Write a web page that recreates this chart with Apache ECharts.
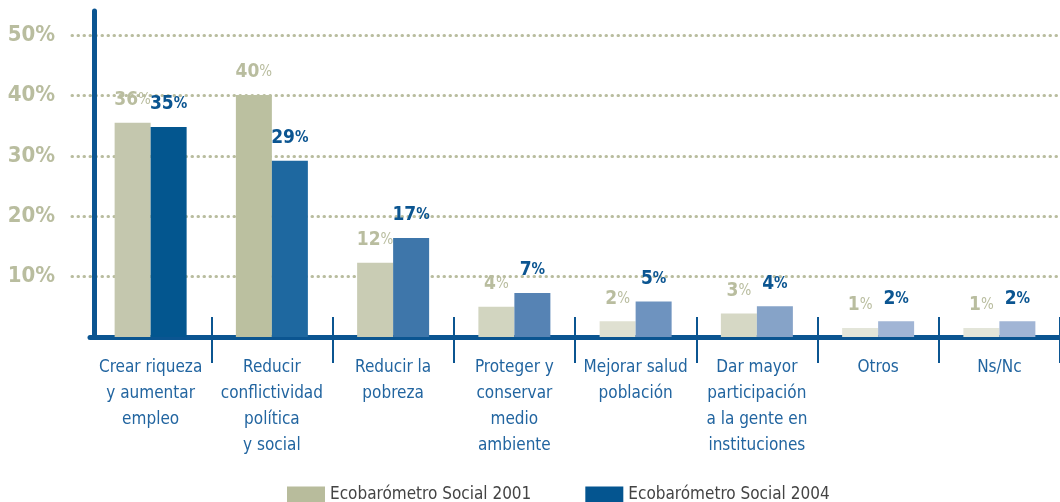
<!DOCTYPE html>
<html>
<head>
<meta charset="utf-8">
<script src="https://cdn.jsdelivr.net/npm/echarts@6/dist/echarts.min.js"></script>
<style>
  html, body { margin: 0; padding: 0; background: #fff; }
  #chart { width: 1060px; height: 502px; }
</style>
</head>
<body>
<div id="chart"></div>
<script>
const categories = [
  'Crear riqueza\ny aumentar\nempleo',
  'Reducir\nconflictividad\npolítica\ny social',
  'Reducir la\npobreza',
  'Proteger y\nconservar\nmedio\nambiente',
  'Mejorar salud\npoblación',
  'Dar mayor\nparticipación\na la gente en\ninstituciones',
  'Otros',
  'Ns/Nc'
];
// bar heights as drawn in the picture
const values2001 = [35.5, 40.1, 12.3, 5.0, 2.6, 3.9, 1.5, 1.5];
const values2004 = [34.8, 29.2, 16.4, 7.3, 5.9, 5.1, 2.6, 2.6];
// printed labels
const labels2001 = [36, 40, 12, 4, 2, 3, 1, 1];
const labels2004 = [35, 29, 17, 7, 5, 4, 2, 2];
const colors2001 = ['#c4c7ae', '#bbc0a0', '#c9ccb4', '#d2d5c0', '#dfe0d1', '#d6d8c5', '#e3e5d9', '#e3e5d9'];
const colors2004 = ['#03568f', '#1e68a0', '#3e76aa', '#5683b4', '#6e93bf', '#86a3c8', '#a1b5d5', '#a1b5d5'];
const yTicks = [10, 20, 30, 40, 50];

const FONT = '"Liberation Sans Narrow", "DejaVu Sans Condensed", "Roboto Condensed", sans-serif';
const BLUE = '#0b5591';
const OLIVE = '#b9bd9f';

const chart = echarts.init(document.getElementById('chart'));

chart.setOption({
  animation: false,
  textStyle: { fontFamily: FONT },
  grid: [
    { left: 90, width: 980, top: 11, bottom: 165 },
    { left: 72, right: 0, top: 11, bottom: 165 }
  ],
  legend: {
    left: 282,
    top: 481,
    itemWidth: 38,
    itemHeight: 16,
    itemGap: 54,
    icon: 'rect',
    textStyle: { fontFamily: FONT, fontSize: 17, color: '#444' },
    data: [
      { name: 'Ecobarómetro Social 2001', itemStyle: { color: '#b8bc9c' } },
      { name: 'Ecobarómetro Social 2004', itemStyle: { color: '#045590' } }
    ]
  },
  xAxis: [
    {
      type: 'category',
      gridIndex: 0,
      position: 'bottom',
      data: categories,
      axisLine: { lineStyle: { color: BLUE, width: 5 } },
      axisTick: { show: true, length: 26, interval: i => i > 0, lineStyle: { color: BLUE, width: 2 } },
      axisLabel: {
        interval: 0,
        margin: 18,
        color: '#2265a0',
        fontSize: 17,
        lineHeight: 26,
        fontFamily: FONT
      }
    },
    {
      type: 'category',
      gridIndex: 0,
      position: 'bottom',
      data: categories,
      axisLine: { show: false },
      axisTick: { show: true, inside: true, length: 20, interval: i => i > 0, lineStyle: { color: BLUE, width: 2 } },
      axisLabel: { show: false }
    },
    { type: 'value', gridIndex: 1, show: false }
  ],
  yAxis: [
    {
      type: 'value',
      gridIndex: 0,
      min: 0,
      max: 54,
      interval: 10,
      offset: -4,
      axisLine: { show: true, lineStyle: { color: BLUE, width: 5 } },
      axisTick: { show: false },
      axisLabel: { show: false },
      splitLine: { show: false }
    },
    {
      type: 'value',
      gridIndex: 1,
      min: 0,
      max: 54,
      interval: 10,
      axisLine: { show: false },
      axisTick: { show: false },
      axisLabel: {
        margin: 17,
        color: OLIVE,
        fontSize: 22,
        fontWeight: 'bold',
        fontFamily: FONT,
        formatter: v => (yTicks.indexOf(v) >= 0 ? v + '%' : '')
      },
      splitLine: {
        show: true,
        showMinLine: false,
        showMaxLine: false,
        lineStyle: { color: OLIVE, width: 3, type: [0.5, 5.5], cap: 'round' }
      }
    }
  ],
  series: [
    {
      name: 'Ecobarómetro Social 2001',
      type: 'bar',
      xAxisIndex: 0,
      yAxisIndex: 0,
      barWidth: 36,
      barGap: '0%',
      data: values2001.map((v, i) => ({ value: v, itemStyle: { color: colors2001[i] } })),
      label: {
        show: true,
        position: 'top',
        distance: 13,
        formatter: p => '{n|' + labels2001[p.dataIndex] + '}{p|%}',
        rich: {
          n: { fontSize: 19, fontWeight: 'bold', color: OLIVE, fontFamily: FONT },
          p: { fontSize: 15, color: OLIVE, fontFamily: FONT }
        }
      }
    },
    {
      name: 'Ecobarómetro Social 2004',
      type: 'bar',
      xAxisIndex: 0,
      yAxisIndex: 0,
      barWidth: 36,
      data: values2004.map((v, i) => ({ value: v, itemStyle: { color: colors2004[i] } })),
      label: {
        show: true,
        position: 'top',
        distance: 13,
        formatter: p => '{n|' + labels2004[p.dataIndex] + '}{p|%}',
        rich: {
          n: { fontSize: 19, fontWeight: 'bold', color: BLUE, fontFamily: FONT },
          p: { fontSize: 15, fontWeight: 'bold', color: BLUE, fontFamily: FONT }
        }
      }
    }
  ]
});
</script>
</body>
</html>
